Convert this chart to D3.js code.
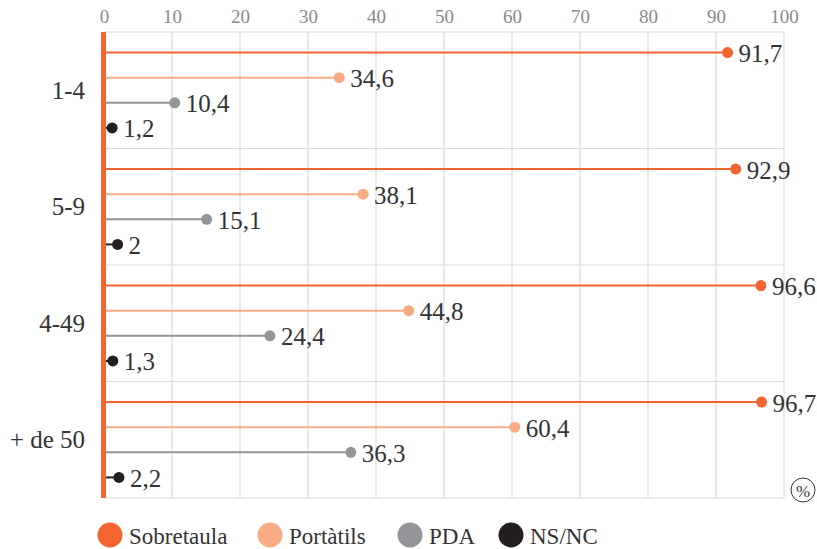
<!DOCTYPE html>
<html><head><meta charset="utf-8">
<script src="https://cdn.jsdelivr.net/npm/d3@7"></script>
<style>body{margin:0;background:#fff}svg{display:block}</style>
</head><body>
<script>
const categories = ["1-4", "5-9", "4-49", "+ de 50"];
const seriesNames = ["Sobretaula", "Portàtils", "PDA", "NS/NC"];
const sobretaula = [91.7, 92.9, 96.6, 96.7];
const portatils = [34.6, 38.1, 44.8, 60.4];
const pda = [10.4, 15.1, 24.4, 36.3];
const nsnc = [1.2, 2, 1.3, 2.2];
const colors = ["#F26531", "#F7AC86", "#939598", "#231F20"];
const ticks = [0,10,20,30,40,50,60,70,80,90,100];

const values = [sobretaula, portatils, pda, nsnc];
const W = 817, H = 549;
const svg = d3.select("body").append("svg").attr("width", W).attr("height", H);
const font = "'Liberation Serif', 'DejaVu Serif', serif";

const x = d3.scaleLinear().domain([0, 100]).range([104, 784]);
const y = d3.scaleBand().domain(categories).range([32, 498]);
const sub = d3.scaleBand().domain(seriesNames).range([0, y.bandwidth()]).paddingOuter(0.32).paddingInner(0);

// vertical grid
svg.append("g").selectAll("line").data(ticks).join("line")
  .attr("x1", d => x(d)).attr("x2", d => x(d))
  .attr("y1", 32).attr("y2", 498)
  .attr("stroke", "#dcdcdc").attr("stroke-width", 1.2);
// horizontal separators
const seps = categories.map(c => y(c)).concat([498]);
svg.append("g").selectAll("line").data(seps).join("line")
  .attr("x1", x(0)).attr("x2", x(100))
  .attr("y1", d => d).attr("y2", d => d)
  .attr("stroke", "#dcdcdc").attr("stroke-width", 1.2);

// top axis
const ax = svg.append("g").attr("transform", "translate(0,23)")
  .call(d3.axisTop(x).tickValues(ticks).tickSize(0).tickPadding(0));
ax.select(".domain").remove();
ax.selectAll("text").attr("font-family", font).attr("font-size", 19).attr("fill", "#8a8a8a");

// category labels
svg.append("g").selectAll("text").data(categories).join("text")
  .attr("x", 85).attr("y", d => y(d) + y.bandwidth()/2)
  .attr("text-anchor", "end").attr("dominant-baseline", "central")
  .attr("font-family", font).attr("font-size", 25).attr("fill", "#333")
  .text(d => d);

// lollipops
categories.forEach((c, ci) => {
  seriesNames.forEach((s, si) => {
    const v = values[si][ci];
    const yy = y(c) + sub(s) + sub.bandwidth()/2;
    svg.append("line").attr("x1", x(0)).attr("x2", x(v)).attr("y1", yy).attr("y2", yy)
      .attr("stroke", colors[si]).attr("stroke-width", 2);
    svg.append("circle").attr("cx", x(v)).attr("cy", yy).attr("r", 5.5).attr("fill", colors[si]);
    svg.append("text").attr("x", x(v) + 11).attr("y", yy + 1).attr("dominant-baseline", "central")
      .attr("font-family", font).attr("font-size", 25).attr("fill", "#333")
      .text(String(v).replace(".", ","));
  });
});

// left orange bar
svg.append("rect").attr("x", 101).attr("y", 32).attr("width", 5).attr("height", 466).attr("fill", colors[0]);

// circled %
svg.append("circle").attr("cx", 803).attr("cy", 490).attr("r", 12).attr("fill", "none").attr("stroke", "#333").attr("stroke-width", 1);
svg.append("text").attr("x", 803).attr("y", 491).attr("text-anchor", "middle").attr("dominant-baseline", "central")
  .attr("font-family", font).attr("font-size", 17).attr("fill", "#333").text("%");

// legend
const legX = [110, 270, 410, 511];
const leg = svg.append("g").selectAll("g").data(seriesNames).join("g")
  .attr("transform", (d, i) => `translate(${legX[i]},535)`);
leg.append("circle").attr("r", 12.5).attr("fill", (d, i) => colors[i]);
leg.append("text").attr("x", 19).attr("y", 1).attr("dominant-baseline", "central")
  .attr("font-family", font).attr("font-size", 23).attr("fill", "#333").text(d => d);
</script>
</body></html>
